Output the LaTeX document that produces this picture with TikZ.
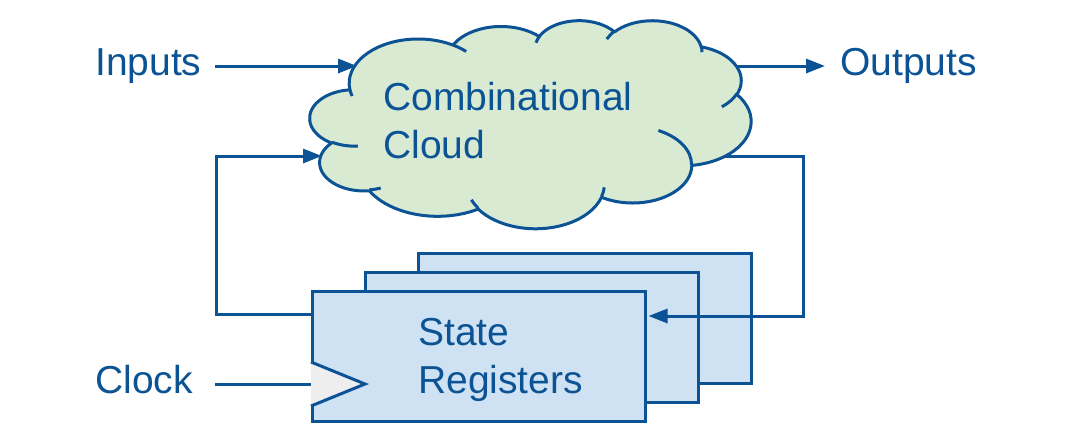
\documentclass[tikz,border=0pt]{standalone}
\usepackage{fontspec}
\setmainfont{Liberation Sans}
\usetikzlibrary{arrows.meta}
\definecolor{lineblue}{HTML}{0B5394}
\definecolor{cloudgreen}{HTML}{D9EAD3}
\definecolor{regblue}{HTML}{CFE2F3}
\definecolor{clkgray}{HTML}{EEEEEE}
\tikzset{
  lbl/.style={text=lineblue, font=\fontsize{39}{48}\selectfont, inner sep=0pt, align=left},
  wire/.style={draw=lineblue, line width=3pt},
  arrowwire/.style={wire, -{Triangle[length=19pt,width=14pt]}},
  regbox/.style={draw=lineblue, fill=regblue, line width=3pt, minimum width=333pt, minimum height=130pt, anchor=north west, inner sep=0pt},
  cloudline/.style={draw=lineblue, line width=3pt, line join=round},
}
\begin{document}
\begin{tikzpicture}[x=1pt,y=-1pt]
\useasboundingbox (0,0) rectangle (1065,440);

% labels
\node[lbl, anchor=base west] (inputs) at (95,75) {Inputs};
\node[lbl, anchor=base west] (outputs) at (840,75) {Outputs};
\node[lbl, anchor=base west] (clock) at (95,393) {Clock};

% connector end points
\coordinate (inStart) at (215,66);
\coordinate (cloudIn) at (357,66);
\coordinate (cloudOut) at (730,66);
\coordinate (outEnd) at (825,66);
\coordinate (cloudFbIn) at (322,156);
\coordinate (cloudFbOut) at (722,156);
\coordinate (clkStart) at (215,384);

% outgoing lines (start under the cloud)
\draw[arrowwire] (cloudOut) -- (outEnd);

% registers
\node[regbox] (back) at (417,252) {};
\node[regbox] (middle) at (364,271) {};
\node[regbox] (front) at (311,290) {};
\draw[wire, fill=clkgray, line join=miter] (front.north west |- 0,362) coordinate (triTop) -- (365,384) coordinate (triTip) -- (front.north west |- 0,406) coordinate (triBot);
\node[lbl, anchor=base west] (regtext) at (418,393) {State\\Registers};

\coordinate (regIn) at ([xshift=1.5pt]front.east |- 0,316);
\coordinate (regOut) at (front.west |- 0,314);

\draw[arrowwire] (cloudFbOut) -- (803,156) |- (regIn);

% cloud (PowerPoint cloud geometry, 432 x 432 units)
\begin{scope}[shift={(310,20)}, x=1.0208pt, y=-0.4815pt]
\filldraw[cloudline, fill=cloudgreen] (39.00,143.70)
  \foreach \w/\h/\s/\d in {
    67.53/91.90/-190.4875/123.7805,
    53.33/72.67/-144.1024/89.9452,
    43.65/59.45/-145.8079/99.7230,
    48.57/65.95/-130.9861/117.2417,
    53.33/72.73/-78.7089/109.0269,
    67.75/92.20/-46.2673/130.2690,
    57.85/78.67/0.6250/114.0333,
    67.52/92.15/22.4516/115.1726,
    77.20/105.43/66.2426/75.7110,
    43.60/59.18/-274.9421/146.7356,
    43.45/59.45/-246.8285/152.5189}
  { arc[start angle={atan2(\w*sin(\s),\h*cos(\s))},
        delta angle={mod(atan2(\w*sin(\s+\d),\h*cos(\s+\d))-atan2(\w*sin(\s),\h*cos(\s))+720,360)},
        x radius=\w, y radius=\h] } -- cycle;
\draw[cloudline]
  \foreach \px/\py/\w/\h/\s/\d in {
    46.93/261.77/43.45/59.45/86.7420/26.4295,
    69.28/348.99/43.60/59.18/73.6105/11.4475,
    164.78/390.90/67.52/92.15/137.6242/14.0811,
    288.27/347.51/67.52/92.15/6.4533/15.9984,
    341.29/229.54/57.85/78.67/-70.2924/70.9174,
    417.98/153.54/53.33/72.73/30.3180/27.7515,
    383.24/54.26/48.57/65.95/-13.7443/14.8589,
    290.78/39.52/48.57/65.95/-149.1815/18.1954,
    221.41/47.20/43.65/59.45/-163.4943/17.6864,
    140.00/51.92/67.53/91.90/-66.7070/12.3194,
    41.27/157.89/67.53/91.90/157.6544/11.8518}
  { (\px,\py) arc[start angle={atan2(\w*sin(\s),\h*cos(\s))},
        delta angle={mod(atan2(\w*sin(\s+\d),\h*cos(\s+\d))-atan2(\w*sin(\s),\h*cos(\s))+720,360)},
        x radius=\w, y radius=\h] };
\end{scope}
\node[lbl, anchor=base west] (cloudtext) at (383,158) {Combinational\\Cloud};

% incoming arrows
\draw[arrowwire] (inStart) -- (cloudIn);
\draw[arrowwire] (regOut) -- (216,314) |- (cloudFbIn);
\draw[wire] (clkStart) -- (clkStart -| front.west);
\end{tikzpicture}
\end{document}
